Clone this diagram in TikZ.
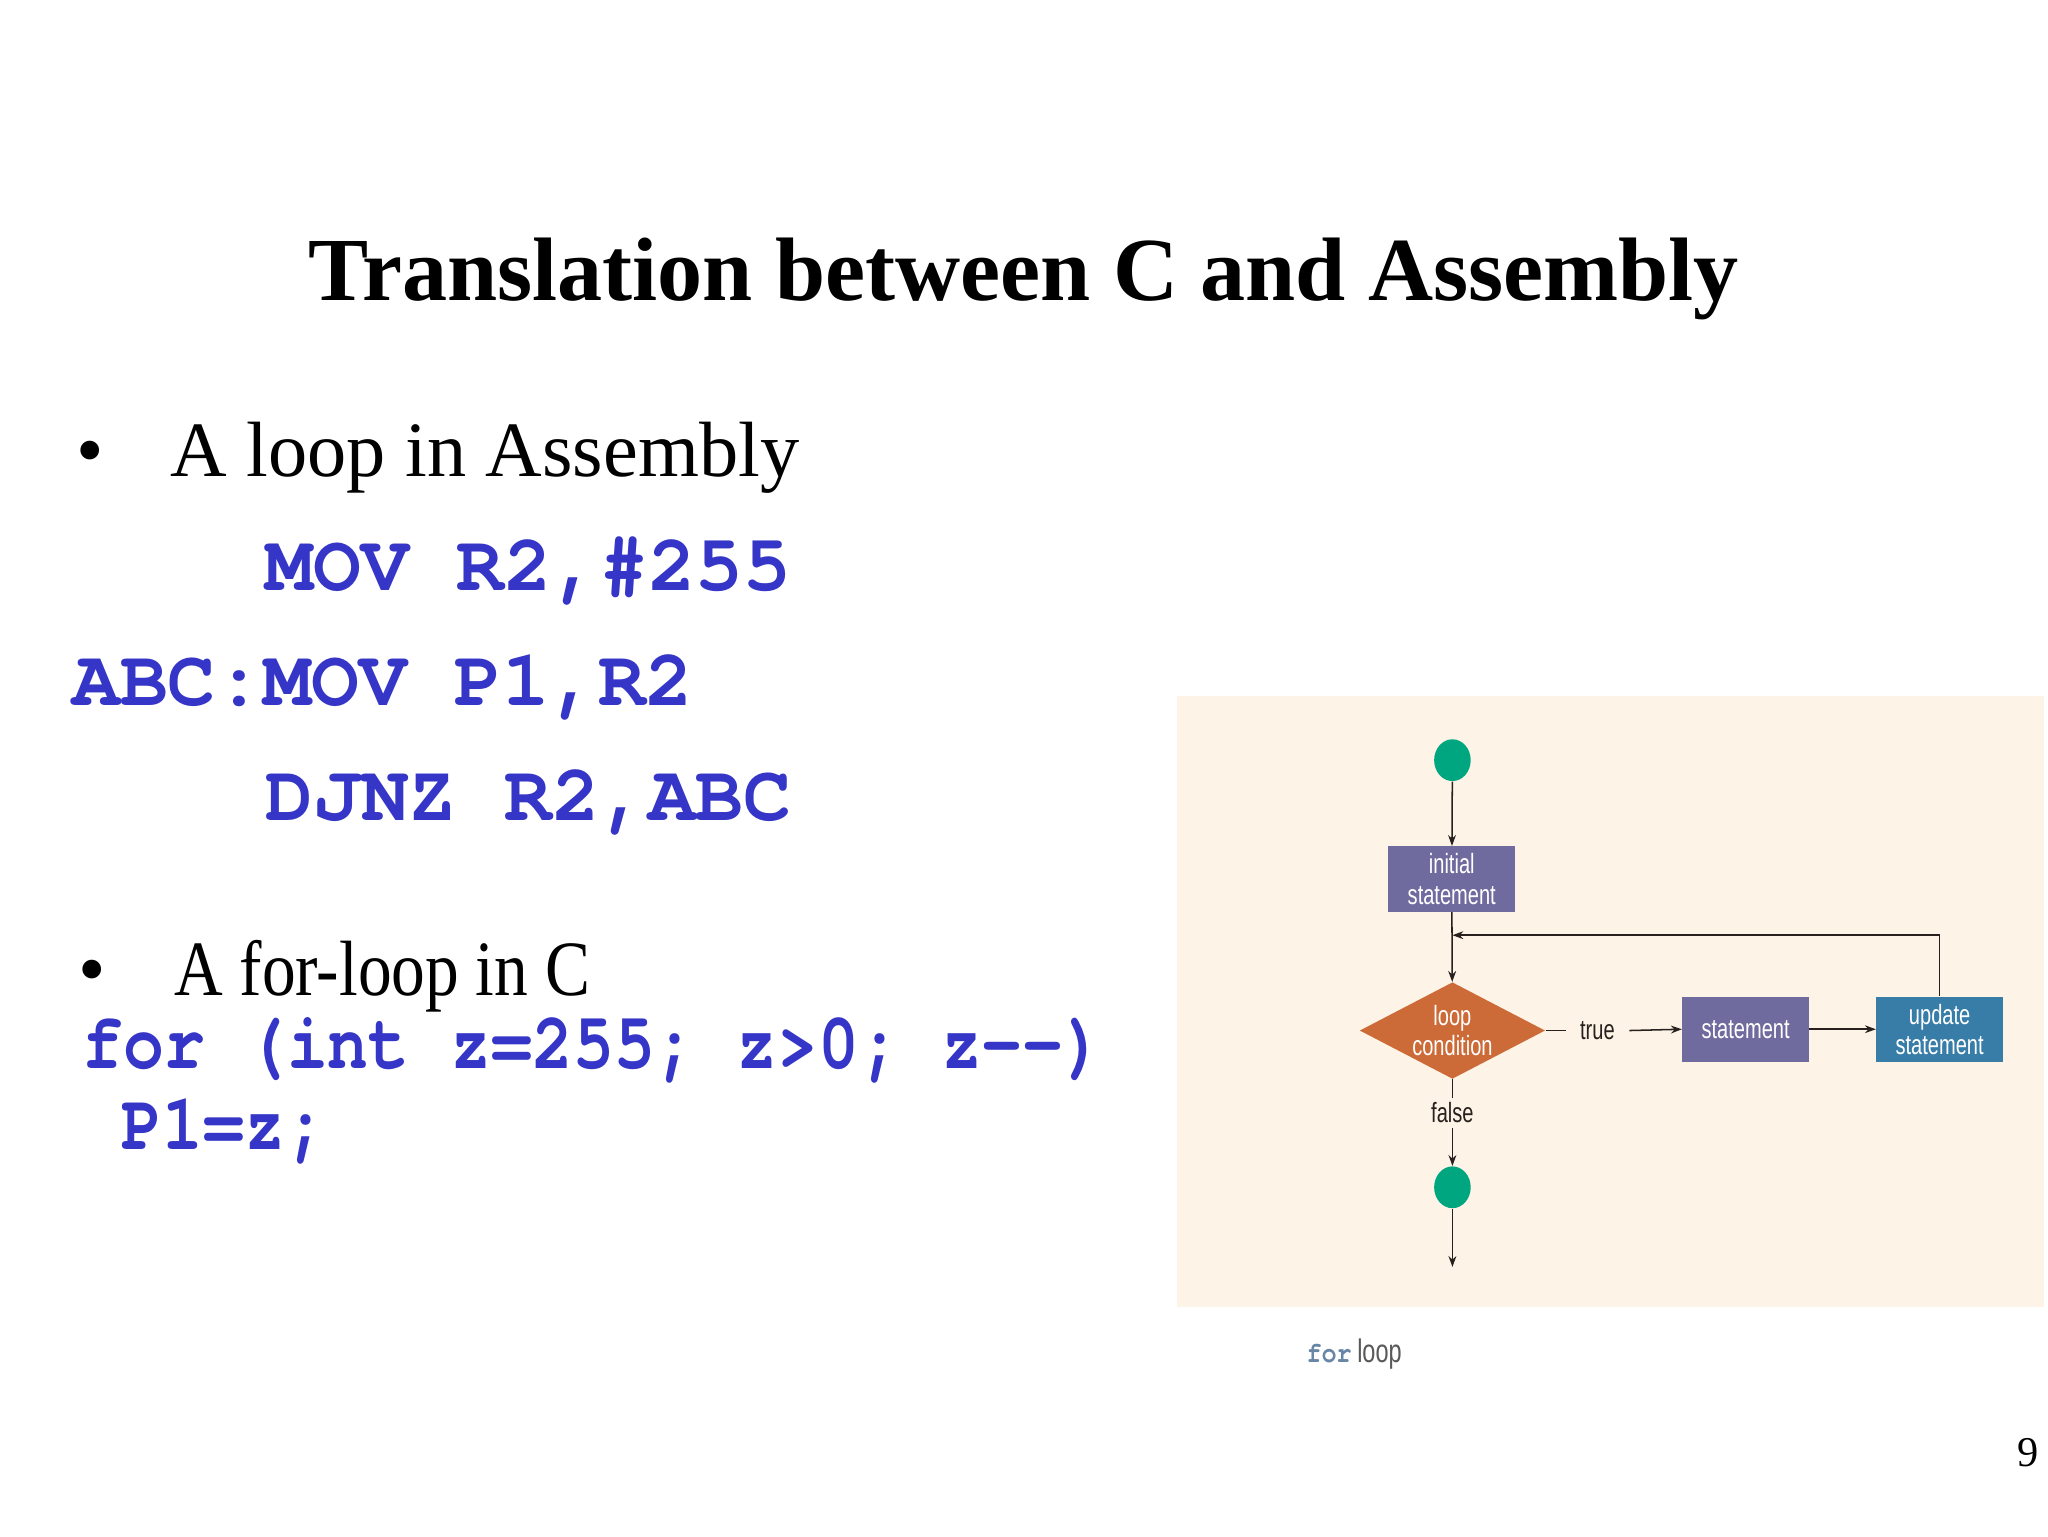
\documentclass[tikz,border=0pt]{standalone}
\usepackage{fontspec}
\setmainfont{Liberation Serif}
\newfontfamily\codefont{texgyrecursor}[Extension=.otf, UprightFont=*-regular, BoldFont=*-bold]
\newfontfamily\narrowcode{texgyrecursor}[Extension=.otf, UprightFont=*-regular, BoldFont=*-bold, FakeStretch=0.855]
\newfontfamily\narrowserif[FakeStretch=0.86]{Liberation Serif}
\newfontfamily\chartfont[FakeStretch=0.72]{Liberation Sans}
\usetikzlibrary{shapes.geometric,arrows.meta}
\definecolor{codeblue}{RGB}{53,53,200}
\definecolor{panelbg}{RGB}{253,243,230}
\definecolor{dotgreen}{RGB}{0,166,128}
\definecolor{boxpurple}{RGB}{112,107,158}
\definecolor{boxblue}{RGB}{56,125,168}
\definecolor{condorange}{RGB}{204,107,56}
\definecolor{linedark}{RGB}{40,32,30}
\definecolor{captionblue}{RGB}{104,134,166}
\tikzset{
  stmt/.style={fill=boxpurple, text=white, minimum width=58.2pt, minimum height=30pt,
    inner sep=0pt, align=center, font=\chartfont\fontsize{12.8}{13.8}\selectfont},
  updbox/.style={stmt, fill=boxblue},
  cond/.style={diamond, aspect=1.92, fill=condorange, text=white, minimum width=85.2pt,
    minimum height=44.4pt, inner sep=0pt, align=center, font=\chartfont\fontsize{12.8}{13.8}\selectfont},
  enddot/.style={ellipse, fill=dotgreen, minimum width=16.8pt, minimum height=19.2pt, inner sep=0pt},
  lbl/.style={text=linedark, inner xsep=6.5pt, inner ysep=2pt, font=\chartfont\fontsize{12.8}{13.8}\selectfont},
  flow/.style={draw=linedark, line width=0.7pt, -{Stealth[length=5pt,width=3.6pt]}},
  code/.style={text=codeblue, inner sep=0pt, anchor=base west, font=\codefont\bfseries\fontsize{36.6}{40}\selectfont},
  ccode/.style={code, font=\narrowcode\bfseries\fontsize{36.6}{40}\selectfont},
  plain/.style={inner sep=0pt, anchor=base west, font=\fontsize{36}{40}\selectfont}
}
\begin{document}
\begin{tikzpicture}[x=0.6pt,y=-0.6pt]
\useasboundingbox[fill=white] (0,0) rectangle (1568,1176);
\node[inner sep=0pt, anchor=base, font=\bfseries\fontsize{41.4}{46}\selectfont] (title) at (784,230) {Translation between C and Assembly};
% assembly part
\node[plain] (bulletA) at (58,365) {\textbullet};
\node[plain] (asmhead) at (130,365) {A loop in Assembly};
\node[code] (asm1) at (203,452) {MOV R2,\#255};
\node[code] (asm2) at (55,540) {ABC:MOV P1,R2};
\node[code] (asm3) at (203,628) {DJNZ R2,ABC};
% C part
\node[plain] (bulletC) at (60,762) {\textbullet};
\node[plain, font=\narrowserif\fontsize{36}{40}\selectfont] (chead) at (133,762) {A for-loop in C};
\node[ccode] (c1) at (63,818) {for (int z=255; z>0; z--)};
\node[ccode] (c2) at (93,880) {P1=z;};
% flowchart
\fill[panelbg] (901,533) rectangle (1565,1001);
\node[enddot] (start) at (1112,582) {};
\node[stmt] (init) at (1111.5,673) {initial\\statement};
\node[cond] (cond) at (1112,789) {loop\\condition};
\node[lbl] (true) at (1223,789) {true};
\node[stmt] (body) at (1336.5,788) {statement};
\node[updbox] (update) at (1485,788) {update\\statement};
\node[lbl] (false) at (1112,852) {false};
\node[enddot] (stop) at (1112,909) {};
\coordinate (join) at (1112,716);
\coordinate (exit) at (1112,970);
\draw[flow] (start) -- (init);
\draw[flow] (init) -- (cond);
\draw[flow] (update.north) |- (join);
\draw[flow, -] (cond.east) -- (true.west);
\draw[flow] (true.east) -- (body.west);
\draw[flow] (body) -- (update);
\draw[flow, -] (cond.south) -- (false.north);
\draw[flow] (false.south) -- (stop);
\draw[flow] (stop) -- (exit);
\node[inner sep=0pt, anchor=base west] (caption) at (1000,1043) {{\narrowcode\bfseries\color{captionblue}\fontsize{13.5}{15}\selectfont for} {\chartfont\color{black!65}\fontsize{15}{17}\selectfont loop}};
\node[inner sep=0pt, anchor=base, font=\fontsize{19.5}{22}\selectfont] (page) at (1553,1123) {9};
\end{tikzpicture}
\end{document}
